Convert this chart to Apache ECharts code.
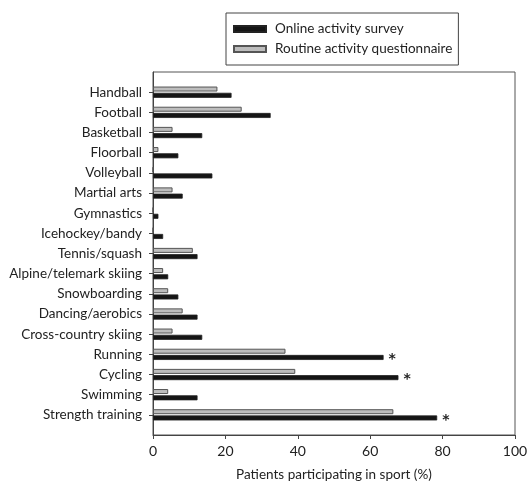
<!DOCTYPE html>
<html>
<head>
<meta charset="utf-8">
<script src="https://cdn.jsdelivr.net/npm/echarts@6/dist/echarts.min.js"></script>
<style>
  html, body { margin: 0; padding: 0; background: #fff; }
  #chart { width: 527px; height: 482px; }
</style>
</head>
<body>
<div id="chart"></div>
<script>
// Sports, listed bottom to top as they sit on the category axis
const sports = [
  'Strength training', 'Swimming', 'Cycling', 'Running', 'Cross-country skiing',
  'Dancing/aerobics', 'Snowboarding', 'Alpine/telemark skiing', 'Tennis/squash',
  'Icehockey/bandy', 'Gymnastics', 'Martial arts', 'Volleyball', 'Floorball',
  'Basketball', 'Football', 'Handball'
];
// Percent of patients taking part in each sport
const onlineSurvey = [78.5, 12.3, 67.8, 63.7, 13.6, 12.3, 7.0, 4.2, 12.3, 2.8, 1.5, 8.2, 16.4, 7.0, 13.6, 32.5, 21.7];
const routineQuestionnaire = [66.4, 4.2, 39.3, 36.6, 5.4, 8.2, 4.2, 2.8, 11.0, 0, 0, 5.4, 0, 1.5, 5.4, 24.5, 17.8];
// Sports with a significant difference between the two instruments
const significant = ['Strength training', 'Cycling', 'Running'];
const xTicks = [0, 20, 40, 60, 80, 100];

const seriesNames = ['Online activity survey', 'Routine activity questionnaire'];
const xTitle = 'Patients participating in sport (%)';

// Half-band padding at both ends of the category axis
const axisCats = [''].concat(sports, ['']);
const pad = arr => [null].concat(arr, [null]);

const font = 'Lato, "Open Sans", sans-serif';
const chart = echarts.init(document.getElementById('chart'));
chart.setOption({
  animation: false,
  textStyle: { fontFamily: font },
  legend: {
    orient: 'vertical',
    left: 226,
    top: 13,
    padding: [9, 6, 9, 7],
    itemGap: 6,
    itemWidth: 32,
    itemHeight: 6,
    icon: 'rect',
    borderColor: '#444',
    borderWidth: 1,
    data: seriesNames,
    textStyle: {
      fontFamily: font, fontSize: 13.5, color: '#222', lineHeight: 14,
      padding: [0, 0, 0, 4]
    }
  },
  grid: {
    left: 153, right: 12, top: 72, bottom: 47,
    outerBoundsMode: 'none',
    containLabel: false,
    show: true, borderColor: '#555', borderWidth: 1
  },
  xAxis: {
    type: 'value',
    min: 0, max: 100, interval: 20,
    name: xTitle,
    nameLocation: 'middle',
    nameGap: 33,
    nameTextStyle: { fontFamily: font, fontSize: 13.5, color: '#222' },
    axisLine: { show: true, lineStyle: { color: '#444', width: 1 } },
    axisTick: { show: true, length: 4, lineStyle: { color: '#444' } },
    axisLabel: {
      fontFamily: font, fontSize: 14, color: '#222', margin: 9,
      formatter: v => xTicks.indexOf(v) >= 0 ? String(v) : ''
    },
    splitLine: { show: false }
  },
  yAxis: {
    type: 'category',
    data: axisCats,
    boundaryGap: false,
    axisLine: { show: true, lineStyle: { color: '#444', width: 1 } },
    axisTick: {
      show: true, length: 4, lineStyle: { color: '#444' },
      interval: (i, v) => v !== ''
    },
    axisLabel: {
      interval: 0, fontFamily: font, fontSize: 13.5, color: '#222', margin: 11
    },
    splitLine: { show: false }
  },
  series: [
    // The first series is drawn on the upper side of each band
    {
      name: seriesNames[1],
      type: 'bar',
      data: pad(routineQuestionnaire),
      barWidth: 5,
      barGap: '25%',
      itemStyle: { color: '#bdbdbd', borderColor: '#555', borderWidth: 1 }
    },
    {
      name: seriesNames[0],
      type: 'bar',
      data: pad(onlineSurvey),
      barWidth: 5,
      itemStyle: { color: '#151515', borderColor: '#222', borderWidth: 0.8 },
      label: {
        show: true,
        position: 'right',
        distance: 5,
        fontFamily: 'DejaVu Sans, sans-serif',
        fontSize: 14,
        fontWeight: 'bold',
        color: '#222',
        offset: [0, 2],
        formatter: p => significant.indexOf(p.name) >= 0 ? '*' : ''
      }
    }
  ]
});
</script>
</body>
</html>
